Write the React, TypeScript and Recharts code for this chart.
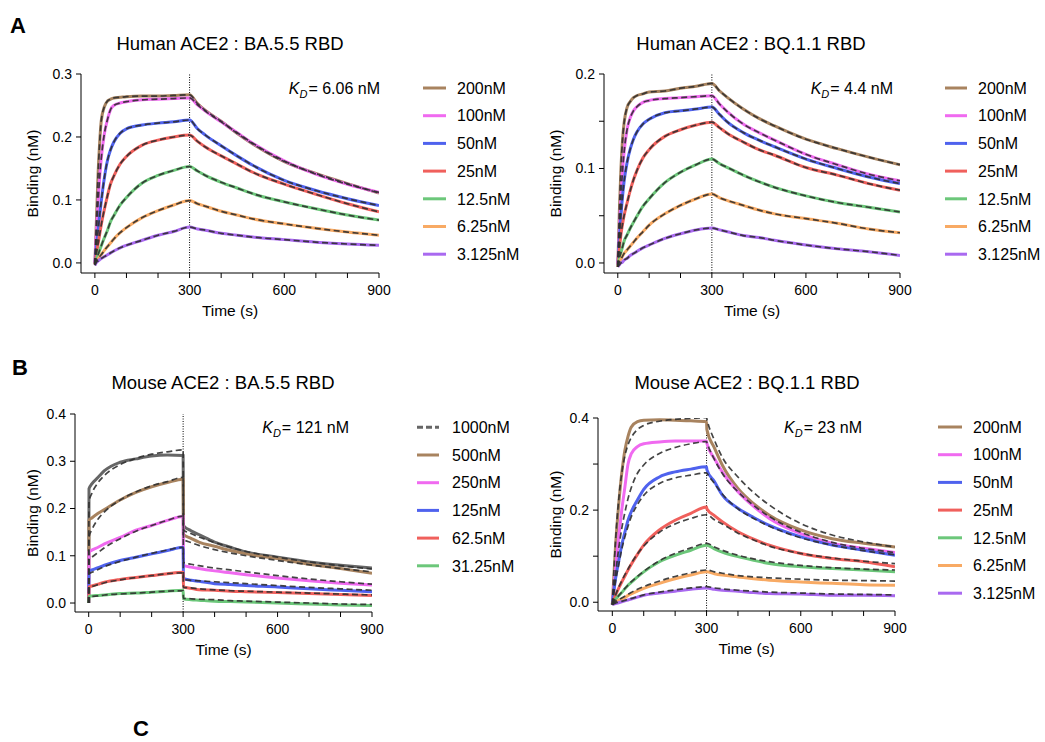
import React from 'react';
import { LineChart, Line, XAxis, YAxis, ReferenceLine } from 'recharts';

const FONT = '"Liberation Sans", Arial, Helvetica, sans-serif';

// legend labels and colours, top to bottom
const CONC_7 = ['200nM', '100nM', '50nM', '25nM', '12.5nM', '6.25nM', '3.125nM'];
const CONC_MB = ['1000nM', '500nM', '250nM', '125nM', '62.5nM', '31.25nM'];
const COLORS_7 = ['#a8835f', '#f06af0', '#4f62ee', '#f0605c', '#6cc77a', '#f8aa64', '#a969f0'];
const COLORS_MB = ['#666666', '#a8835f', '#f06af0', '#4f62ee', '#f0605c', '#6cc77a'];

const X_TICKS = [0, 100, 200, 300, 400, 500, 600, 700, 800, 900];

// ---- A: human ACE2 (time in s, binding in nM) ----
const TIME_A = [0, 5, 10, 15, 20, 30, 40, 50, 60, 80, 100, 150, 200, 250, 300, 325, 350, 400, 450, 500, 600, 700, 800, 900];

const hBA5_200 = [-0.002, 0.07, 0.14, 0.19, 0.225, 0.248, 0.257, 0.26, 0.262, 0.263, 0.264, 0.265, 0.265, 0.266, 0.267, 0.253, 0.242, 0.225, 0.206, 0.189, 0.161, 0.142, 0.126, 0.111];
const hBA5_100 = [-0.002, 0.05, 0.095, 0.135, 0.165, 0.205, 0.228, 0.244, 0.25, 0.254, 0.256, 0.259, 0.26, 0.261, 0.262, 0.251, 0.241, 0.224, 0.207, 0.19, 0.162, 0.141, 0.125, 0.112];
const hBA5_50 = [-0.002, 0.025, 0.05, 0.075, 0.097, 0.135, 0.163, 0.18, 0.192, 0.206, 0.213, 0.219, 0.222, 0.224, 0.227, 0.213, 0.203, 0.186, 0.17, 0.155, 0.131, 0.115, 0.102, 0.091];
const hBA5_25 = [-0.002, 0.015, 0.03, 0.045, 0.06, 0.085, 0.107, 0.126, 0.138, 0.157, 0.169, 0.187, 0.195, 0.2, 0.203, 0.193, 0.184, 0.17, 0.157, 0.144, 0.125, 0.109, 0.094, 0.081];
const hBA5_12 = [-0.002, 0.006, 0.013, 0.02, 0.027, 0.04, 0.052, 0.066, 0.075, 0.092, 0.104, 0.127, 0.139, 0.147, 0.153, 0.146, 0.139, 0.128, 0.119, 0.11, 0.097, 0.086, 0.076, 0.068];
const hBA5_6 = [-0.003, 0.003, 0.006, 0.01, 0.013, 0.02, 0.026, 0.032, 0.038, 0.048, 0.056, 0.072, 0.083, 0.092, 0.099, 0.094, 0.09, 0.082, 0.076, 0.07, 0.062, 0.055, 0.049, 0.044];
const hBA5_3 = [-0.004, 0.001, 0.003, 0.005, 0.007, 0.01, 0.013, 0.016, 0.019, 0.024, 0.028, 0.036, 0.044, 0.05, 0.057, 0.054, 0.052, 0.047, 0.044, 0.041, 0.037, 0.033, 0.03, 0.028];

const hBQ1_200 = [-0.004, 0.055, 0.1, 0.13, 0.148, 0.165, 0.171, 0.175, 0.177, 0.179, 0.181, 0.182, 0.185, 0.187, 0.19, 0.182, 0.175, 0.163, 0.153, 0.145, 0.131, 0.121, 0.112, 0.104];
const hBQ1_100 = [-0.004, 0.035, 0.07, 0.097, 0.117, 0.142, 0.154, 0.161, 0.165, 0.17, 0.172, 0.174, 0.175, 0.176, 0.177, 0.168, 0.16, 0.147, 0.138, 0.13, 0.115, 0.104, 0.094, 0.087];
const hBQ1_50 = [-0.004, 0.025, 0.05, 0.07, 0.086, 0.107, 0.121, 0.131, 0.138, 0.147, 0.152, 0.159, 0.161, 0.163, 0.165, 0.157, 0.149, 0.138, 0.13, 0.123, 0.11, 0.1, 0.091, 0.084];
const hBQ1_25 = [-0.004, 0.015, 0.03, 0.041, 0.05, 0.064, 0.077, 0.088, 0.097, 0.111, 0.12, 0.134, 0.141, 0.146, 0.149, 0.143, 0.137, 0.128, 0.12, 0.114, 0.101, 0.093, 0.084, 0.077];
const hBQ1_12 = [-0.004, 0.005, 0.011, 0.017, 0.023, 0.03, 0.037, 0.043, 0.049, 0.06, 0.068, 0.085, 0.096, 0.104, 0.11, 0.105, 0.101, 0.093, 0.086, 0.08, 0.071, 0.064, 0.059, 0.054];
const hBQ1_6 = [-0.004, 0.001, 0.004, 0.007, 0.01, 0.014, 0.018, 0.022, 0.026, 0.033, 0.04, 0.052, 0.061, 0.068, 0.073, 0.069, 0.066, 0.061, 0.056, 0.052, 0.047, 0.042, 0.036, 0.032];
const hBQ1_3 = [-0.004, -0.002, 0.0, 0.001, 0.003, 0.005, 0.008, 0.01, 0.012, 0.016, 0.019, 0.026, 0.031, 0.035, 0.037, 0.035, 0.033, 0.029, 0.027, 0.024, 0.019, 0.015, 0.012, 0.008];

// ---- B: mouse ACE2, BA.5.5 (data + global fit) ----
const TIME_MBA5 = [0, 1, 10, 30, 50, 100, 150, 200, 250, 300, 301, 325, 350, 400, 450, 500, 600, 700, 800, 900];

const mBA5_1000 = [0, 0.242, 0.252, 0.266, 0.28, 0.298, 0.305, 0.311, 0.313, 0.312, 0.164, 0.153, 0.145, 0.129, 0.118, 0.108, 0.097, 0.087, 0.08, 0.074];
const mBA5_500 = [0, 0.175, 0.18, 0.19, 0.198, 0.218, 0.234, 0.246, 0.255, 0.262, 0.145, 0.137, 0.129, 0.12, 0.111, 0.104, 0.094, 0.082, 0.073, 0.063];
const mBA5_250 = [0, 0.108, 0.112, 0.118, 0.125, 0.139, 0.154, 0.164, 0.175, 0.183, 0.08, 0.076, 0.073, 0.068, 0.064, 0.06, 0.053, 0.047, 0.042, 0.038];
const mBA5_125 = [0, 0.068, 0.07, 0.075, 0.08, 0.09, 0.097, 0.104, 0.111, 0.118, 0.052, 0.048, 0.046, 0.041, 0.039, 0.037, 0.034, 0.03, 0.027, 0.024];
const mBA5_62 = [0, 0.034, 0.036, 0.04, 0.044, 0.05, 0.054, 0.058, 0.062, 0.065, 0.034, 0.031, 0.028, 0.027, 0.025, 0.024, 0.022, 0.02, 0.018, 0.016];
const mBA5_31 = [0, 0.014, 0.015, 0.016, 0.017, 0.02, 0.021, 0.023, 0.025, 0.027, 0.009, 0.007, 0.006, 0.004, 0.003, 0.002, 0.0, -0.002, -0.004, -0.005];

const fitBA5_1000 = [0, 0.215, 0.232, 0.255, 0.27, 0.293, 0.306, 0.315, 0.32, 0.324, 0.155, 0.147, 0.14, 0.128, 0.118, 0.109, 0.097, 0.087, 0.079, 0.072];
const fitBA5_500 = [0, 0.14, 0.155, 0.178, 0.193, 0.218, 0.235, 0.248, 0.257, 0.266, 0.135, 0.128, 0.122, 0.113, 0.106, 0.1, 0.09, 0.081, 0.073, 0.066];
const fitBA5_250 = [0, 0.092, 0.097, 0.107, 0.117, 0.136, 0.152, 0.164, 0.175, 0.184, 0.086, 0.082, 0.079, 0.074, 0.07, 0.066, 0.058, 0.051, 0.045, 0.04];
const fitBA5_125 = [0, 0.062, 0.065, 0.071, 0.077, 0.088, 0.097, 0.105, 0.112, 0.118, 0.05, 0.048, 0.047, 0.045, 0.043, 0.041, 0.037, 0.033, 0.03, 0.027];
const fitBA5_62 = [0, 0.033, 0.035, 0.039, 0.043, 0.049, 0.054, 0.058, 0.062, 0.064, 0.033, 0.032, 0.03, 0.028, 0.026, 0.025, 0.023, 0.021, 0.019, 0.017];
const fitBA5_31 = [0, 0.013, 0.014, 0.015, 0.017, 0.019, 0.021, 0.023, 0.025, 0.026, 0.01, 0.009, 0.008, 0.007, 0.005, 0.004, 0.002, 0.0, -0.002, -0.003];

// ---- B: mouse ACE2, BQ.1.1 ----
const TIME_MBQ1 = [0, 10, 20, 30, 40, 50, 60, 80, 100, 150, 200, 250, 300, 301, 325, 350, 400, 450, 500, 600, 700, 800, 900];

const mBQ1_200 = [-0.005, 0.12, 0.21, 0.28, 0.33, 0.36, 0.38, 0.392, 0.395, 0.396, 0.395, 0.394, 0.392, 0.375, 0.335, 0.298, 0.247, 0.214, 0.189, 0.157, 0.138, 0.128, 0.12];
const mBQ1_100 = [-0.005, 0.07, 0.14, 0.2, 0.25, 0.3, 0.322, 0.338, 0.344, 0.348, 0.35, 0.35, 0.35, 0.345, 0.312, 0.283, 0.24, 0.208, 0.182, 0.149, 0.128, 0.117, 0.108];
const mBQ1_50 = [-0.005, 0.05, 0.088, 0.124, 0.152, 0.178, 0.196, 0.222, 0.245, 0.272, 0.283, 0.289, 0.294, 0.288, 0.262, 0.233, 0.204, 0.184, 0.167, 0.142, 0.124, 0.113, 0.102];
const mBQ1_25 = [-0.005, 0.015, 0.03, 0.044, 0.057, 0.07, 0.082, 0.104, 0.124, 0.157, 0.178, 0.193, 0.207, 0.203, 0.188, 0.175, 0.153, 0.137, 0.124, 0.106, 0.095, 0.088, 0.077];
const mBQ1_12 = [-0.005, 0.006, 0.014, 0.021, 0.029, 0.037, 0.043, 0.055, 0.066, 0.088, 0.102, 0.113, 0.124, 0.124, 0.116, 0.109, 0.099, 0.091, 0.084, 0.077, 0.073, 0.07, 0.066];
const mBQ1_6 = [-0.005, 0.0, 0.004, 0.007, 0.01, 0.015, 0.018, 0.024, 0.03, 0.041, 0.051, 0.059, 0.066, 0.066, 0.062, 0.059, 0.055, 0.051, 0.048, 0.044, 0.041, 0.038, 0.037];
const mBQ1_3 = [-0.005, -0.003, -0.001, 0.001, 0.003, 0.005, 0.007, 0.011, 0.015, 0.02, 0.024, 0.028, 0.031, 0.031, 0.028, 0.026, 0.024, 0.021, 0.019, 0.018, 0.015, 0.015, 0.014];

const fitBQ1_200 = [-0.005, 0.13, 0.22, 0.28, 0.318, 0.342, 0.357, 0.375, 0.384, 0.393, 0.397, 0.399, 0.401, 0.398, 0.352, 0.315, 0.272, 0.238, 0.211, 0.171, 0.146, 0.131, 0.12];
const fitBQ1_100 = [-0.005, 0.06, 0.115, 0.16, 0.195, 0.225, 0.248, 0.28, 0.298, 0.323, 0.336, 0.344, 0.349, 0.347, 0.31, 0.28, 0.24, 0.21, 0.186, 0.152, 0.13, 0.117, 0.108];
const fitBQ1_50 = [-0.005, 0.045, 0.08, 0.115, 0.142, 0.165, 0.185, 0.212, 0.232, 0.258, 0.27, 0.276, 0.281, 0.28, 0.258, 0.235, 0.203, 0.182, 0.165, 0.14, 0.124, 0.112, 0.103];
const fitBQ1_25 = [-0.005, 0.015, 0.032, 0.046, 0.06, 0.072, 0.084, 0.105, 0.122, 0.152, 0.17, 0.182, 0.19, 0.19, 0.179, 0.17, 0.15, 0.135, 0.122, 0.106, 0.096, 0.089, 0.084];
const fitBQ1_12 = [-0.005, 0.006, 0.014, 0.022, 0.03, 0.037, 0.044, 0.056, 0.067, 0.09, 0.106, 0.118, 0.128, 0.128, 0.12, 0.113, 0.102, 0.094, 0.088, 0.08, 0.075, 0.072, 0.07];
const fitBQ1_6 = [-0.005, 0.001, 0.005, 0.009, 0.013, 0.017, 0.021, 0.028, 0.034, 0.046, 0.056, 0.064, 0.07, 0.07, 0.066, 0.063, 0.058, 0.055, 0.053, 0.05, 0.048, 0.047, 0.046];
const fitBQ1_3 = [-0.005, -0.002, 0.0, 0.002, 0.004, 0.006, 0.008, 0.012, 0.016, 0.022, 0.027, 0.031, 0.034, 0.034, 0.031, 0.029, 0.026, 0.024, 0.022, 0.02, 0.018, 0.017, 0.016];

const humanBA5 = [hBA5_200, hBA5_100, hBA5_50, hBA5_25, hBA5_12, hBA5_6, hBA5_3];
const humanBQ1 = [hBQ1_200, hBQ1_100, hBQ1_50, hBQ1_25, hBQ1_12, hBQ1_6, hBQ1_3];
const mouseBA5 = [mBA5_1000, mBA5_500, mBA5_250, mBA5_125, mBA5_62, mBA5_31];
const mouseBA5Fit = [fitBA5_1000, fitBA5_500, fitBA5_250, fitBA5_125, fitBA5_62, fitBA5_31];
const mouseBQ1 = [mBQ1_200, mBQ1_100, mBQ1_50, mBQ1_25, mBQ1_12, mBQ1_6, mBQ1_3];
const mouseBQ1Fit = [fitBQ1_200, fitBQ1_100, fitBQ1_50, fitBQ1_25, fitBQ1_12, fitBQ1_6, fitBQ1_3];

const YW = 60;
const XH = 50;
const MT = 14;
const MR = 12;

type PanelProps = {
  x: number; // y axis position on the page
  y: number; // top of plot
  w: number;
  h: number;
  xMin: number;
  yMin: number;
  yMax: number;
  yTicks: number[];
  yStep: number;
  time: number[];
  data: number[][];
  fits: number[][];
  colors: string[];
};

const tickStyle = { fill: '#000', fontSize: 14, fontFamily: FONT };

const Panel: React.FC<PanelProps> = (p) => {
  const rows = p.time.map((t, i) => {
    const r: Record<string, number> = { t };
    p.data.forEach((s, k) => { r['d' + k] = s[i]; });
    p.fits.forEach((s, k) => { r['f' + k] = s[i]; });
    return r;
  });
  const fmtY = (v: number) => {
    const q = v / p.yStep;
    return Math.abs(q - Math.round(q)) < 1e-6 ? v.toFixed(1) : '';
  };
  return (
    <div style={{ position: 'absolute', left: p.x - YW, top: p.y - MT }}>
      <LineChart width={YW + p.w + MR} height={MT + p.h + XH} data={rows} margin={{ top: MT, right: MR, left: 0, bottom: 0 }}>
        <XAxis dataKey="t" type="number" domain={[p.xMin, 900]} allowDataOverflow ticks={X_TICKS} interval={0}
          tickFormatter={(v: number) => (v % 300 === 0 ? String(v) : '')} height={XH} tickSize={5} tickMargin={7}
          stroke="#000" tick={tickStyle} />
        <YAxis type="number" domain={[p.yMin, p.yMax]} allowDataOverflow ticks={p.yTicks} interval={0}
          tickFormatter={fmtY} width={YW} tickSize={5} tickMargin={4} stroke="#000" tick={tickStyle} />
        <ReferenceLine x={300} stroke="#000" strokeDasharray="1 1.5" strokeWidth={1} />
        {p.data.map((_, k) => (
          <Line key={'d' + k} dataKey={'d' + k} type="monotone" stroke={p.colors[k]} strokeWidth={3}
            dot={false} activeDot={false} isAnimationActive={false} />
        ))}
        {p.fits.map((_, k) => (
          <Line key={'f' + k} dataKey={'f' + k} type="monotone" stroke="#303030" strokeOpacity={0.9} strokeWidth={1.7}
            strokeDasharray="6 3.5" dot={false} activeDot={false} isAnimationActive={false} />
        ))}
      </LineChart>
    </div>
  );
};

const Legend: React.FC<{ x1: number; x2: number; tx: number; y0: number; labels: string[]; colors: string[]; dashFirst?: boolean }> = ({ x1, x2, tx, y0, labels, colors, dashFirst }) => (
  <g>
    {labels.map((l, i) => {
      const cy = y0 + i * 27.7;
      return (
        <g key={l}>
          <line x1={x1} x2={x2} y1={cy} y2={cy} stroke={colors[i]} strokeWidth={3}
            strokeDasharray={dashFirst && i === 0 ? '6 3' : undefined} />
          <text x={tx} y={cy + 5.7} fontSize={16}>{l}</text>
        </g>
      );
    })}
  </g>
);

const Kd: React.FC<{ x: number; y: number; value: string }> = ({ x, y, value }) => (
  <text x={x} y={y + 5.7} fontSize={16} textAnchor="end">
    <tspan fontStyle="italic">K</tspan>
    <tspan fontStyle="italic" fontSize={11} dy={4}>D</tspan>
    <tspan dy={-4} dx={1}>{'= ' + value}</tspan>
  </text>
);

const YTitle: React.FC<{ cx: number; cy: number }> = ({ cx, cy }) => (
  <text x={cx + 5.5} y={cy} fontSize={15.5} textAnchor="middle" transform={`rotate(-90 ${cx + 5.5} ${cy})`}>Binding (nM)</text>
);

const XTitle: React.FC<{ cx: number; cy: number }> = ({ cx, cy }) => (
  <text x={cx} y={cy + 5.5} fontSize={15.5} textAnchor="middle">Time (s)</text>
);

export default function App() {
  return (
    <div style={{ position: 'absolute', left: 0, top: 0, width: 1045, height: 742, background: '#fff', fontFamily: FONT, overflow: 'hidden' }}>
      <Panel x={81} y={74} w={298} h={199} xMin={-44} yMin={-0.016} yMax={0.3} yTicks={[0, 0.1, 0.2, 0.3]} yStep={0.1}
        time={TIME_A} data={humanBA5} fits={humanBA5} colors={COLORS_7} />
      <Panel x={604} y={74} w={296} h={199} xMin={-44} yMin={-0.0106} yMax={0.2} yTicks={[0, 0.05, 0.1, 0.15, 0.2]} yStep={0.1}
        time={TIME_A} data={humanBQ1} fits={humanBQ1} colors={COLORS_7} />
      <Panel x={75} y={414} w={297} h={198} xMin={-43.5} yMin={-0.019} yMax={0.4} yTicks={[0, 0.1, 0.2, 0.3, 0.4]} yStep={0.1}
        time={TIME_MBA5} data={mouseBA5} fits={mouseBA5Fit} colors={COLORS_MB} />
      <Panel x={598} y={418} w={297} h={193} xMin={-45.6} yMin={-0.019} yMax={0.4} yTicks={[0, 0.1, 0.2, 0.3, 0.4]} yStep={0.2}
        time={TIME_MBQ1} data={mouseBQ1} fits={mouseBQ1Fit} colors={COLORS_7} />

      <svg width={1045} height={742} style={{ position: 'absolute', left: 0, top: 0, pointerEvents: 'none' }} fontFamily={FONT} fill="#000">
        <text x={10} y={33} fontSize={22} fontWeight="bold">A</text>
        <text x={12} y={375} fontSize={22} fontWeight="bold">B</text>
        <text x={133} y={736} fontSize={22} fontWeight="bold">C</text>

        <text x={230} y={49.6} fontSize={18.5} textAnchor="middle">Human ACE2 : BA.5.5 RBD</text>
        <text x={751} y={49.6} fontSize={18.5} textAnchor="middle">Human ACE2 : BQ.1.1 RBD</text>
        <text x={223} y={388.6} fontSize={18.5} textAnchor="middle">Mouse ACE2 : BA.5.5 RBD</text>
        <text x={747} y={388.6} fontSize={18.5} textAnchor="middle">Mouse ACE2 : BQ.1.1 RBD</text>

        <Kd x={380} y={88} value="6.06 nM" />
        <Kd x={893} y={88} value="4.4 nM" />
        <Kd x={349} y={427} value="121 nM" />
        <Kd x={862} y={427} value="23 nM" />

        <YTitle cx={32} cy={173.5} />
        <YTitle cx={555} cy={173.5} />
        <YTitle cx={32} cy={513} />
        <YTitle cx={555} cy={514.5} />
        <XTitle cx={230} cy={310} />
        <XTitle cx={752} cy={310} />
        <XTitle cx={223.5} cy={649.3} />
        <XTitle cx={746.5} cy={648.5} />

        <Legend x1={423} x2={446} tx={457} y0={88} labels={CONC_7} colors={COLORS_7} />
        <Legend x1={945} x2={967} tx={978} y0={88} labels={CONC_7} colors={COLORS_7} />
        <Legend x1={417} x2={439} tx={452} y0={427.3} labels={CONC_MB} colors={COLORS_MB} dashFirst />
        <Legend x1={938} x2={962} tx={973} y0={427} labels={CONC_7} colors={COLORS_7} />
      </svg>
    </div>
  );
}
